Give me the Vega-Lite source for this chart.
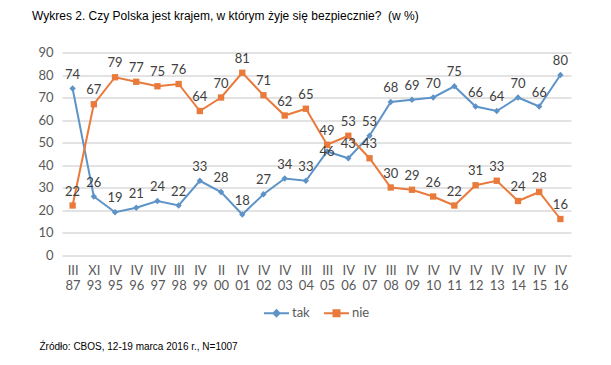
{
  "$schema": "https://vega.github.io/schema/vega-lite/v6.json",
  "width": 509,
  "height": 202.5,
  "autosize": {"type": "none"},
  "padding": {"left": 62, "top": 52.5, "right": 40, "bottom": 110},
  "background": "white",
  "title": {
    "text": "Wykres 2. Czy Polska jest krajem, w którym żyje się bezpiecznie?\u00a0 (w %)",
    "anchor": "start",
    "frame": "group",
    "dx": -30,
    "offset": 24,
    "fontSize": 12,
    "font": "Liberation Sans",
    "fontWeight": "normal",
    "color": "#000000"
  },
  "config": {"view": {"stroke": null}},
  "data": {
    "values": [
      {"okres": "III 87", "seria": "tak", "wartosc": 74},
      {"okres": "XI 93", "seria": "tak", "wartosc": 26},
      {"okres": "IV 95", "seria": "tak", "wartosc": 19},
      {"okres": "IV 96", "seria": "tak", "wartosc": 21},
      {"okres": "IIV 97", "seria": "tak", "wartosc": 24},
      {"okres": "III 98", "seria": "tak", "wartosc": 22},
      {"okres": "IV 99", "seria": "tak", "wartosc": 33},
      {"okres": "II 00", "seria": "tak", "wartosc": 28},
      {"okres": "IV 01", "seria": "tak", "wartosc": 18},
      {"okres": "IV 02", "seria": "tak", "wartosc": 27},
      {"okres": "IV 03", "seria": "tak", "wartosc": 34},
      {"okres": "III 04", "seria": "tak", "wartosc": 33},
      {"okres": "III 05", "seria": "tak", "wartosc": 46},
      {"okres": "IV 06", "seria": "tak", "wartosc": 43},
      {"okres": "IV 07", "seria": "tak", "wartosc": 53},
      {"okres": "III 08", "seria": "tak", "wartosc": 68},
      {"okres": "IV 09", "seria": "tak", "wartosc": 69},
      {"okres": "IV 10", "seria": "tak", "wartosc": 70},
      {"okres": "IV 11", "seria": "tak", "wartosc": 75},
      {"okres": "IV 12", "seria": "tak", "wartosc": 66},
      {"okres": "IV 13", "seria": "tak", "wartosc": 64},
      {"okres": "IV 14", "seria": "tak", "wartosc": 70},
      {"okres": "IV 15", "seria": "tak", "wartosc": 66},
      {"okres": "IV 16", "seria": "tak", "wartosc": 80},
      {"okres": "III 87", "seria": "nie", "wartosc": 22},
      {"okres": "XI 93", "seria": "nie", "wartosc": 67},
      {"okres": "IV 95", "seria": "nie", "wartosc": 79},
      {"okres": "IV 96", "seria": "nie", "wartosc": 77},
      {"okres": "IIV 97", "seria": "nie", "wartosc": 75},
      {"okres": "III 98", "seria": "nie", "wartosc": 76},
      {"okres": "IV 99", "seria": "nie", "wartosc": 64},
      {"okres": "II 00", "seria": "nie", "wartosc": 70},
      {"okres": "IV 01", "seria": "nie", "wartosc": 81},
      {"okres": "IV 02", "seria": "nie", "wartosc": 71},
      {"okres": "IV 03", "seria": "nie", "wartosc": 62},
      {"okres": "III 04", "seria": "nie", "wartosc": 65},
      {"okres": "III 05", "seria": "nie", "wartosc": 49},
      {"okres": "IV 06", "seria": "nie", "wartosc": 53},
      {"okres": "IV 07", "seria": "nie", "wartosc": 43},
      {"okres": "III 08", "seria": "nie", "wartosc": 30},
      {"okres": "IV 09", "seria": "nie", "wartosc": 29},
      {"okres": "IV 10", "seria": "nie", "wartosc": 26},
      {"okres": "IV 11", "seria": "nie", "wartosc": 22},
      {"okres": "IV 12", "seria": "nie", "wartosc": 31},
      {"okres": "IV 13", "seria": "nie", "wartosc": 33},
      {"okres": "IV 14", "seria": "nie", "wartosc": 24},
      {"okres": "IV 15", "seria": "nie", "wartosc": 28},
      {"okres": "IV 16", "seria": "nie", "wartosc": 16}
    ]
  },
  "encoding": {
    "x": {
      "field": "okres",
      "type": "nominal",
      "sort": null,
      "scale": {"type": "point", "padding": 0.5},
      "axis": {
        "labelExpr": "split(datum.label, ' ')",
        "labelAngle": 0,
        "ticks": false,
        "domain": false,
        "grid": false,
        "labelPadding": 9,
        "labelFontSize": 13,
        "labelFont": "Lato",
        "labelColor": "#595959",
        "labelLineHeight": 15,
        "title": "Źródło: CBOS, 12-19 marca 2016 r., N=1007",
        "titleX": -23,
        "titleY": 91,
        "titleAlign": "left",
        "titleAnchor": null,
        "titleBaseline": "middle",
        "titleFont": "Liberation Sans",
        "titleFontSize": 10,
        "titleFontWeight": "normal",
        "titleColor": "#000000"
      }
    },
    "y": {
      "field": "wartosc",
      "type": "quantitative",
      "scale": {"domain": [0, 90]},
      "axis": {
        "values": [0, 10, 20, 30, 40, 50, 60, 70, 80, 90],
        "title": null,
        "domain": false,
        "ticks": false,
        "gridColor": "#c6c6c6",
        "gridWidth": 1,
        "labelPadding": 9,
        "labelFontSize": 13,
        "labelFont": "Lato",
        "labelColor": "#595959"
      }
    }
  },
  "layer": [
    {
      "mark": {"type": "line", "strokeWidth": 2},
      "encoding": {
        "color": {
          "field": "seria",
          "type": "nominal",
          "sort": null,
          "scale": {"domain": ["tak", "nie"], "range": ["#5E93C8", "#E97A3C"]},
          "legend": {
            "orient": "none",
            "legendX": 201,
            "legendY": 247,
            "direction": "horizontal",
            "title": null,
            "labelFontSize": 13,
            "labelFont": "Lato",
            "labelColor": "#595959",
            "symbolSize": 625,
            "symbolStrokeWidth": 2,
            "columnPadding": 10,
            "labelOffset": 2,
            "encode": {
              "symbols": {
                "update": {
                  "shape": {"signal": "datum.value === 'tak' ? 'M-1,0H1M-0.24,0L0,-0.24L0.24,0L0,0.24Z' : 'M-1,0H1M-0.24,-0.24H0.24V0.24H-0.24Z'"},
                  "fill": {"signal": "datum.value === 'tak' ? '#5E93C8' : '#E97A3C'"},
                  "stroke": {"signal": "datum.value === 'tak' ? '#5E93C8' : '#E97A3C'"},
                  "fillOpacity": {"value": 1},
                  "strokeWidth": {"value": 2}
                }
              }
            }
          }
        }
      }
    },
    {
      "transform": [{"filter": "datum.seria === 'tak'"}],
      "mark": {"type": "point", "filled": true, "opacity": 1, "size": 40, "shape": "diamond", "color": "#5E93C8"},
      "encoding": {}
    },
    {
      "transform": [{"filter": "datum.seria === 'nie'"}],
      "mark": {"type": "point", "filled": true, "opacity": 1, "size": 40, "shape": "square", "color": "#E97A3C"},
      "encoding": {}
    },
    {
      "transform": [{"filter": "!(datum.seria === 'tak' && datum.okres === 'III 05')"}],
      "mark": {"type": "text", "dy": -14, "fontSize": 13, "font": "Lato", "color": "#404040", "baseline": "middle"},
      "encoding": {"text": {"field": "wartosc", "type": "quantitative"}}
    },
    {
      "transform": [{"filter": "datum.seria === 'tak' && datum.okres === 'III 05'"}],
      "mark": {"type": "text", "dy": 0, "fontSize": 13, "font": "Lato", "color": "#404040", "baseline": "middle"},
      "encoding": {"text": {"field": "wartosc", "type": "quantitative"}}
    }
  ]
}
